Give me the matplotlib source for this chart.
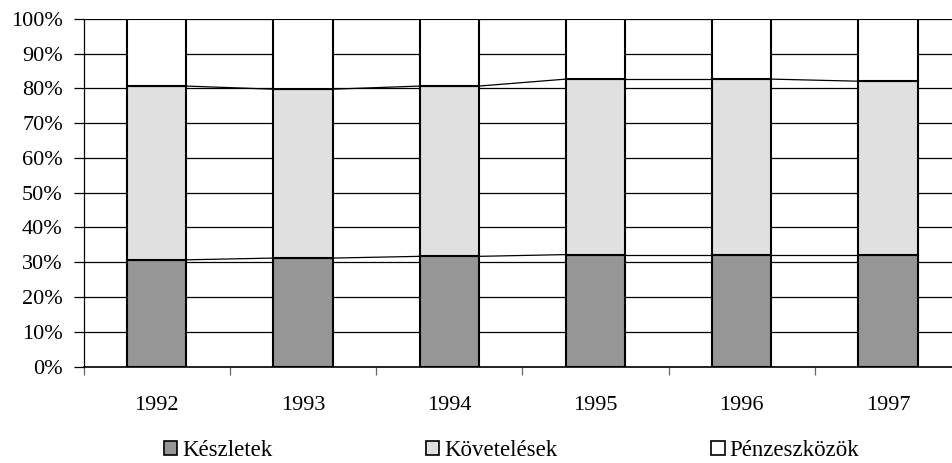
import numpy as np
import matplotlib.pyplot as plt
from matplotlib.patches import Patch

plt.rcParams.update({"font.family": "Liberation Serif", "font.size": 16})

years = ["1992", "1993", "1994", "1995", "1996", "1997"]
keszletek = [30.7, 31.2, 31.7, 32.2, 32.2, 32.2]
kovetelesek = [50.0, 48.6, 49.0, 50.5, 50.5, 49.9]
penzeszkozok = [19.3, 20.2, 19.3, 17.3, 17.3, 17.9]
labels = ["Készletek", "Követelések", "Pénzeszközök"]
colors = ["#969696", "#e0e0e0", "#ffffff"]

fig = plt.figure(figsize=(9.52, 4.63), dpi=100)
# axes continues a bit past the right edge, as in the original
ax = fig.add_axes([83.6 / 952, 96.5 / 463, 877.5 / 952, 347.5 / 463])

x = np.arange(len(years)) + 0.5
w = 0.405
series = [keszletek, kovetelesek, penzeszkozok]
bottom = np.zeros(len(years))
for vals, col, lab in zip(series, colors, labels):
    ax.bar(x, vals, w, bottom=bottom, color=col, edgecolor="black",
           linewidth=1.5, label=lab, zorder=3)
    bottom = bottom + np.array(vals)
    if lab != labels[-1]:
        # series lines between neighbouring bar tops
        for i in range(len(years) - 1):
            ax.plot([x[i] + w / 2, x[i + 1] - w / 2], [bottom[i], bottom[i + 1]],
                    color="black", lw=0.9, zorder=2)

ax.set_xlim(0, 6)
ax.set_ylim(0, 100)
ax.set_yticks(np.arange(0, 101, 10))
ax.set_yticklabels([f"{v}%" for v in range(0, 101, 10)])
ax.yaxis.grid(True, color="black", lw=0.9, zorder=1)
ax.tick_params(axis="y", length=7, width=0.9, pad=8)

ax.set_xticks(np.arange(0, 7))
ax.set_xticklabels([])
ax.set_xticks(x, minor=True)
ax.set_xticklabels(years, minor=True)
ax.tick_params(axis="x", which="major", length=6, width=0.9, color="#666666")
ax.tick_params(axis="x", which="minor", length=0, pad=21)

for s in ["top", "right"]:
    ax.spines[s].set_visible(False)
ax.spines["left"].set_linewidth(0.9)
ax.spines["bottom"].set_linewidth(1.2)

handles = [Patch(facecolor=c, edgecolor="black", lw=1.2) for c in colors]
fig.legend(handles, labels, loc="lower center", bbox_to_anchor=(0.537, -0.04),
           ncol=3, frameon=False, handlelength=0.6, handleheight=0.6,
           handletextpad=0.2, columnspacing=6.7, fontsize=16.5)

fig.savefig("out.png", dpi=100)
